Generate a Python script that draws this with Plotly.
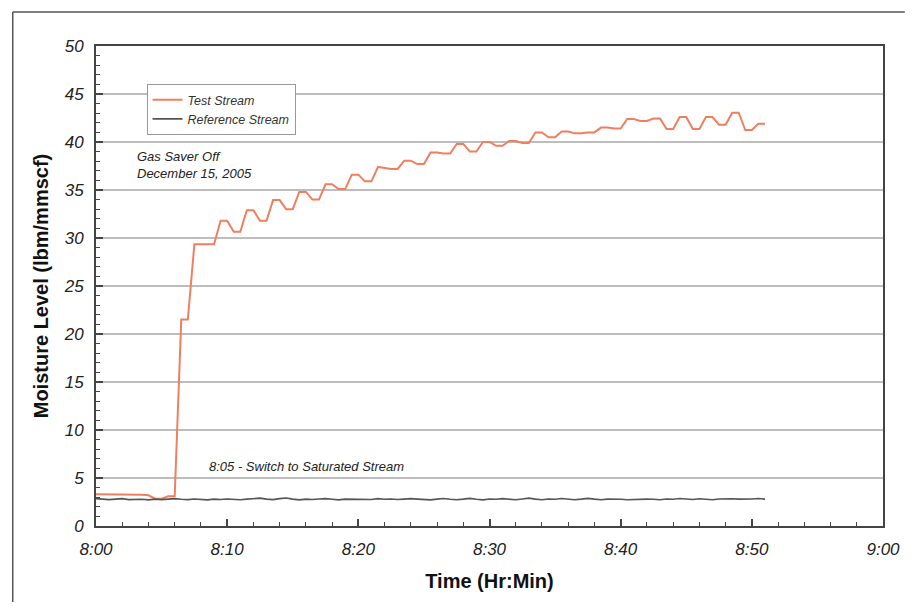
import plotly.graph_objects as go

# ---- data (minutes after 8:00, sampled every 30 s) ----
sample_step_min = 0.5
test_stream = [3.3, 3.3, 3.3, 3.3, 3.3, 3.25, 3.25, 3.25, 3.2, 2.85,
               2.85, 3.1, 3.1, 21.5, 21.5, 29.35, 29.35, 29.35, 29.35, 31.8,
               31.8, 30.65, 30.65, 32.9, 32.9, 31.8, 31.8, 33.95, 33.95, 33.0,
               33.0, 34.8, 34.8, 34.0, 34.0, 35.6, 35.6, 35.1, 35.1, 36.6,
               36.6, 35.9, 35.9, 37.4, 37.3, 37.2, 37.2, 38.05, 38.05, 37.7,
               37.7, 38.9, 38.9, 38.8, 38.8, 39.8, 39.8, 39.0, 39.0, 40.0,
               40.0, 39.6, 39.6, 40.1, 40.1, 39.9, 39.9, 41.0, 41.0, 40.5,
               40.5, 41.1, 41.1, 40.9, 40.9, 41.0, 41.0, 41.5, 41.5, 41.4,
               41.4, 42.4, 42.4, 42.2, 42.2, 42.45, 42.45, 41.35, 41.35, 42.6,
               42.6, 41.35, 41.35, 42.6, 42.6, 41.8, 41.8, 43.05, 43.05, 41.25,
               41.25, 41.9, 41.9]
reference_stream = [2.85, 2.8, 2.75, 2.8, 2.85, 2.75, 2.8, 2.78, 2.72, 2.8,
                    2.75, 2.8, 2.85, 2.78, 2.75, 2.82, 2.78, 2.72, 2.8, 2.76,
                    2.82, 2.78, 2.74, 2.8, 2.85, 2.9, 2.8, 2.75, 2.85, 2.92,
                    2.8, 2.72, 2.8, 2.76, 2.82, 2.85, 2.78, 2.72, 2.8, 2.78,
                    2.82, 2.8, 2.76, 2.85, 2.78, 2.82, 2.76, 2.8, 2.85, 2.8,
                    2.78, 2.72, 2.8, 2.86, 2.78, 2.74, 2.8, 2.88, 2.78, 2.72,
                    2.82, 2.78, 2.85, 2.8, 2.74, 2.82, 2.9, 2.8, 2.74, 2.82,
                    2.78, 2.86, 2.8, 2.74, 2.8, 2.88, 2.8, 2.74, 2.8, 2.82,
                    2.78, 2.74, 2.78, 2.8, 2.8, 2.78, 2.74, 2.82, 2.78, 2.86,
                    2.8, 2.76, 2.84, 2.78, 2.74, 2.82, 2.86, 2.84, 2.8, 2.78,
                    2.82, 2.86, 2.8]
test_time = [i * sample_step_min for i in range(len(test_stream))]
ref_time = [i * sample_step_min for i in range(len(reference_stream))]

x_tick_vals = [0, 10, 20, 30, 40, 50, 60]
x_tick_text = ["8:00", "8:10", "8:20", "8:30", "8:40", "8:50", "9:00"]

FONT = "Liberation Sans, Arial, sans-serif"
AXIS_COLOR = "#444444"
GRID_COLOR = "#bdbdbd"

fig = go.Figure()
fig.add_trace(go.Scatter(x=test_time, y=test_stream, mode="lines", name="Test Stream",
                         line=dict(color="#ee7f5f", width=2)))
fig.add_trace(go.Scatter(x=ref_time, y=reference_stream, mode="lines", name="Reference Stream",
                         line=dict(color="#555555", width=1.6)))

# page has an 8px body margin; figure kept inside the window
OFF = 8
FIG_W, FIG_H = 904, 594
PX0, PX1, PY0, PY1 = 96, 890, 46, 526   # plot area in page pixels
L, R, T, B = PX0 - OFF, OFF + FIG_W - PX1, PY0 - OFF, OFF + FIG_H - PY1
W, H = PX1 - PX0, PY1 - PY0


def px(xp):
    return (xp - PX0) / W


def py(yp):
    return (PY1 - yp) / H


fig.update_layout(
    width=FIG_W, height=FIG_H,
    margin=dict(l=L, r=R, t=T, b=B),
    paper_bgcolor="white", plot_bgcolor="white",
    font=dict(family=FONT, color="#222222"),
    showlegend=True,
    legend=dict(x=px(147), y=py(84), xanchor="left", yanchor="top",
                bgcolor="white", bordercolor="#999999", borderwidth=1,
                font=dict(family=FONT, size=12.5, style="italic", color="#333333"),
                tracegroupgap=0, itemwidth=30),
    xaxis=dict(range=[0, 60], tickvals=x_tick_vals, ticktext=x_tick_text,
               ticks="inside", ticklen=7, tickwidth=1.5, tickcolor=AXIS_COLOR,
               minor=dict(dtick=2, ticks="inside", ticklen=4, tickcolor=AXIS_COLOR, tickwidth=1),
               showgrid=False, zeroline=False,
               showline=True, linecolor=AXIS_COLOR, linewidth=2, mirror=True,
               ticklabelstandoff=7,
               tickfont=dict(family=FONT, size=17, style="italic", color="#222222"),
               title=dict(text="<b>Time (Hr:Min)</b>", font=dict(family=FONT, size=20, color="#111111"),
                          standoff=16)),
    yaxis=dict(range=[0, 50], dtick=5, tick0=0,
               ticks="inside", ticklen=7, tickwidth=1.5, tickcolor=AXIS_COLOR,
               minor=dict(dtick=1, ticks="inside", ticklen=4, tickcolor=AXIS_COLOR, tickwidth=1),
               showgrid=True, gridcolor=GRID_COLOR, gridwidth=1.5, zeroline=False,
               showline=True, linecolor=AXIS_COLOR, linewidth=2, mirror=True,
               ticklabelstandoff=7,
               tickfont=dict(family=FONT, size=17, style="italic", color="#222222"),
               title=dict(text="<b>Moisture Level (lbm/mmscf)</b>",
                          font=dict(family=FONT, size=20, color="#111111"), standoff=10)),
)

# annotations
fig.add_annotation(x=px(135), y=py(147), xref="paper", yref="paper",
                   xanchor="left", yanchor="top", align="left", showarrow=False,
                   text="Gas Saver Off<br>December 15, 2005",
                   font=dict(family=FONT, size=13, style="italic", color="#222222"))
fig.add_annotation(x=px(208), y=py(466), xref="paper", yref="paper",
                   xanchor="left", yanchor="middle", showarrow=False,
                   text="8:05 - Switch to Saturated Stream",
                   font=dict(family=FONT, size=13, style="italic", color="#222222"))

# outer page border (top and left)
bx0, by0 = px(12), py(12)
fig.add_shape(type="line", xref="paper", yref="paper", x0=bx0, y0=by0, x1=px(OFF + FIG_W), y1=by0,
              line=dict(color="#555555", width=1.5))
fig.add_shape(type="line", xref="paper", yref="paper", x0=bx0, y0=by0, x1=bx0, y1=py(OFF + FIG_H),
              line=dict(color="#555555", width=1.5))

fig.write_html("out.html")
